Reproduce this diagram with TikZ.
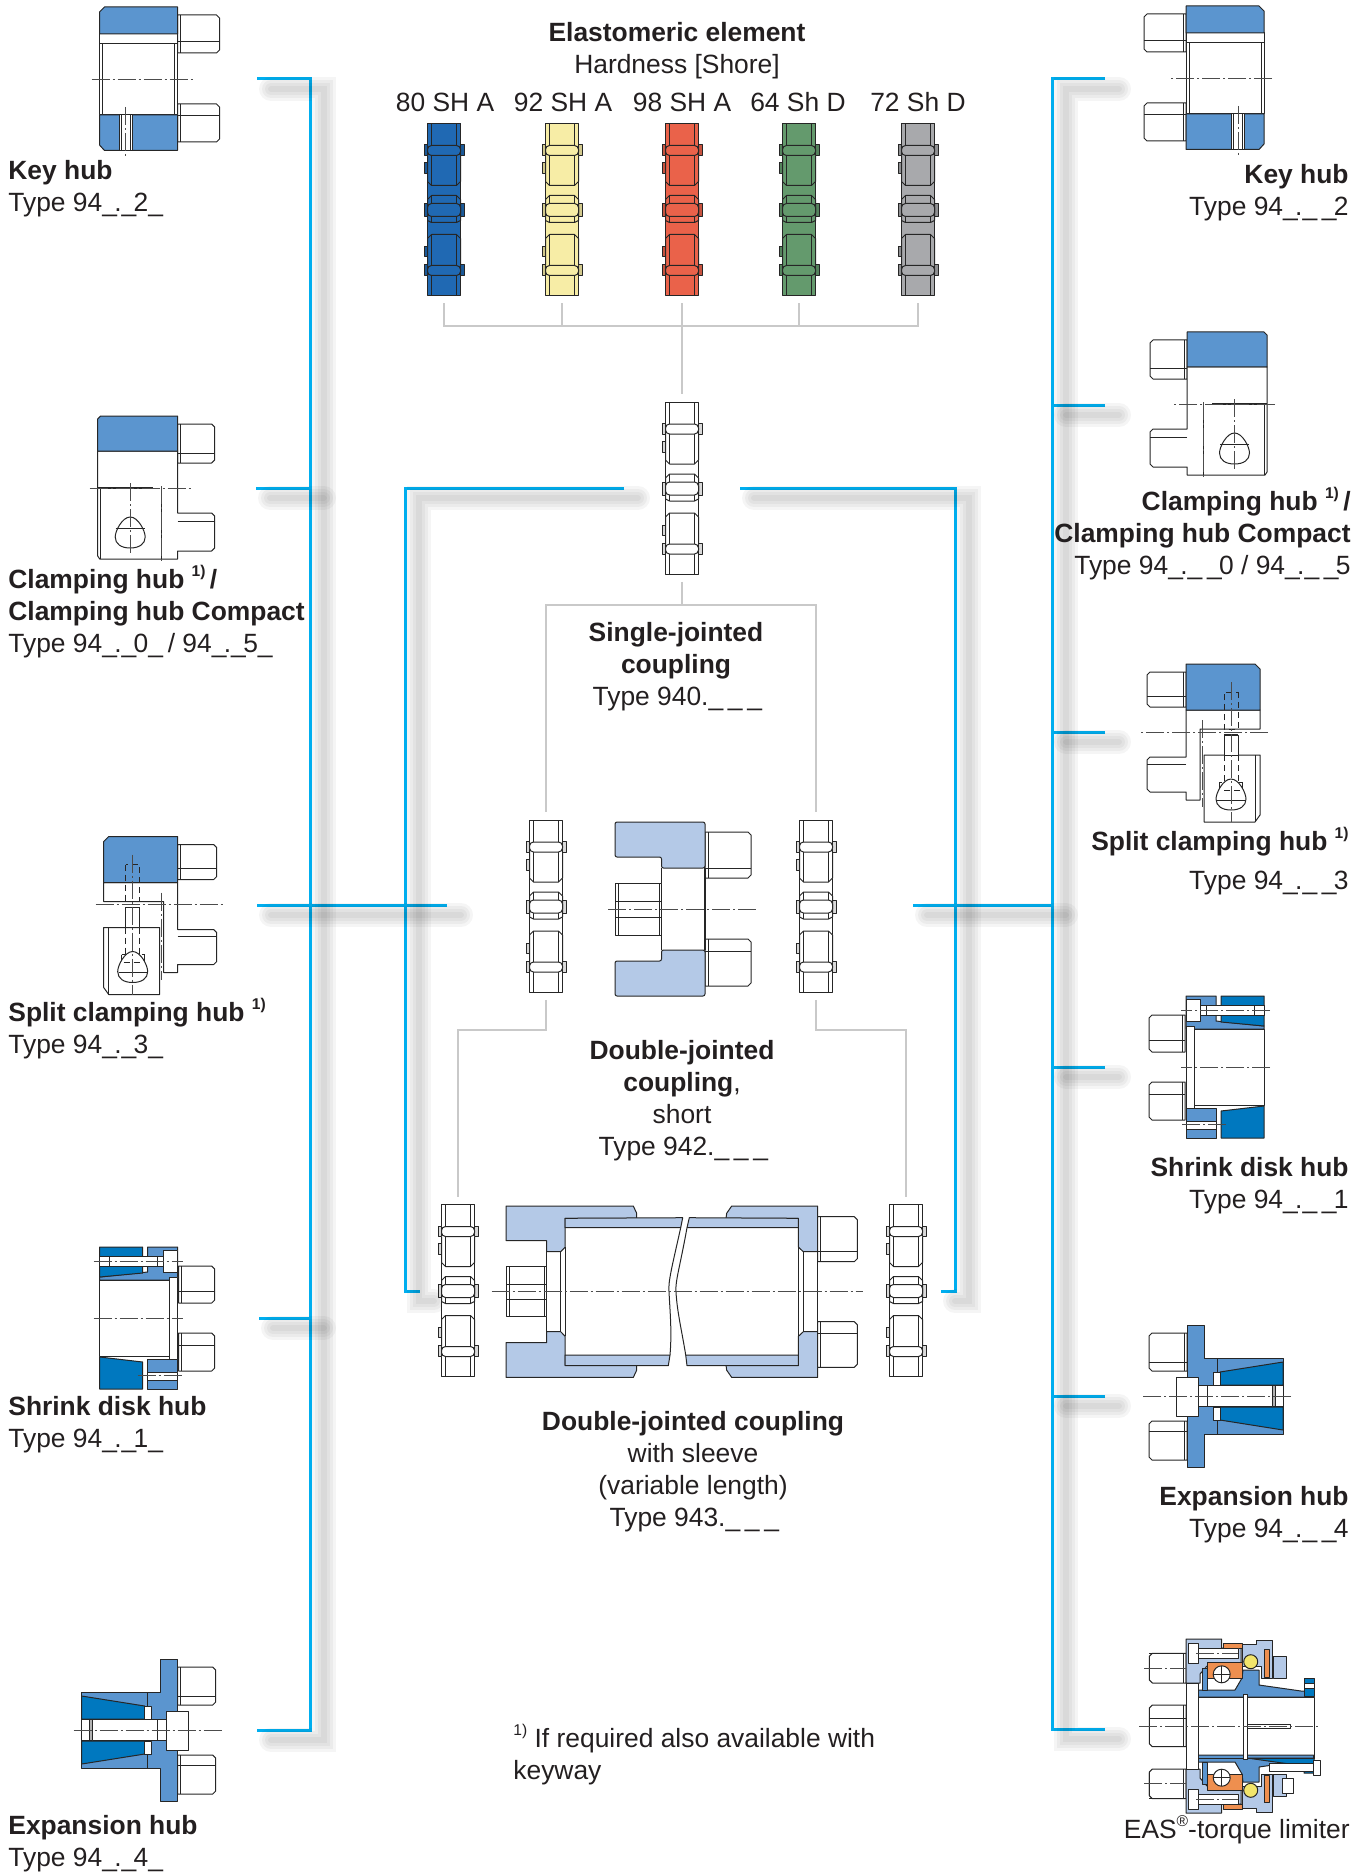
\documentclass[tikz,border=0pt]{standalone}
\usepackage{fontspec}
\usepackage{xcolor}
\setmainfont{Liberation Sans}
\definecolor{ink}{HTML}{231F20}
\definecolor{buscyan}{HTML}{00AEEF}
\definecolor{forkgrey}{HTML}{C9C9C9}
\definecolor{hubblue}{HTML}{5B95CF}
\definecolor{deepblue}{HTML}{0078BF}
\definecolor{paleblue}{HTML}{B4C9E7}
\definecolor{ringorange}{HTML}{EE8F4F}
\definecolor{ballyellow}{HTML}{F2E56B}
\definecolor{shA80}{HTML}{2069B3}
\definecolor{shA92}{HTML}{F7EDA6}
\definecolor{shA98}{HTML}{EA624A}
\definecolor{shD64}{HTML}{649A6D}
\definecolor{shD72}{HTML}{A8A9AC}
\newcommand{\hubbolt}[4]{%
	\draw[part,fill=white] (0,#2) -- (#1-3,#2) -- (#1,#2+3) -- (#1,#3-3) -- (#1-3,#3) -- (0,#3) -- cycle;
	\draw[part] (0,#4) -- (#1,#4) (3,#2) -- (3,#3);
}
\newcommand{\teardrop}[2]{%
	\draw[part,fill=white] (#1,#2) .. controls (#1+8,#2) and (#1+15,#2+14) .. (#1+15,#2+20) .. controls (#1+15,#2+27) and (#1+9,#2+31) .. (#1,#2+31) .. controls (#1-9,#2+31) and (#1-15,#2+27) .. (#1-15,#2+20) .. controls (#1-15,#2+14) and (#1-8,#2) .. (#1,#2) -- cycle;
}
\newcommand{\us}{\_\kern-0.1em}
\newcommand{\hubnote}[1]{\raisebox{0.42em}{\fontsize{7.8}{8}\selectfont #1}}

\begin{document}
\begin{tikzpicture}[
		x=0.5pt, y=-0.5pt,
		part/.style={draw=black!85, line width=0.5pt, line join=round},
		heavy/.style={draw=black!85, line width=0.8pt},
		axisline/.style={draw=black!70, line width=0.4pt, dash pattern=on 9pt off 1.5pt on 1pt off 1.5pt},
		busline/.style={draw=buscyan, line width=1.5pt},
		forkline/.style={draw=forkgrey, line width=1.2pt},
		busshadow/.style={draw=black, line cap=round, opacity=0.04},
		elembox/.style={minimum width=22pt, minimum height=93.5pt, inner sep=0pt},
		plain/.style={font=\fontsize{13.2}{16}\selectfont, text=ink, inner sep=0pt},
		leftlabel/.style={plain, align=left, anchor=base west},
		rightlabel/.style={plain, align=right, anchor=base east},
		midlabel/.style={plain, align=center, anchor=base},
		pics/element/.style={code={
			\filldraw[part,fill=#1] (-16.5,-86) rectangle (16.5,86);
			\foreach \ya/\yb in {-64.5/-54,-6/7,55/66} {
				\filldraw[part,fill=#1!85!black] (-20,\ya) rectangle (-16.5,\yb);
				\filldraw[part,fill=#1!85!black] (16.5,\ya) rectangle (20,\yb);
			}
			\foreach \ya/\yb in {-47/-36,37/47}
				\filldraw[part,fill=#1!85!black] (-20,\ya) rectangle (-16.5,\yb);
			\draw[part,fill=#1] (-16.5,-54) -- (-16.5,-28) -- (-12.5,-24) -- (12.5,-24) -- (16.5,-28) -- (16.5,-54);
			\draw[part,fill=#1] (-16.5,-10) -- (-12.5,-14) -- (12.5,-14) -- (16.5,-10) -- (16.5,11) -- (12.5,13) -- (-12.5,13) -- (-16.5,11) -- cycle;
			\draw[part,fill=#1] (-16.5,56) -- (-16.5,29) -- (-12.5,25) -- (12.5,25) -- (16.5,29) -- (16.5,56);
			\draw[part] (-12.5,-86) -- (-12.5,-24) (12.5,-86) -- (12.5,-24) (-12.5,-14) -- (-12.5,13) (12.5,-14) -- (12.5,13) (-12.5,25) -- (-12.5,86) (12.5,25) -- (12.5,86);
			\foreach \ya/\yb in {-64/-54,-6/7,56/66}
				\filldraw[part,fill=#1,rounded corners=2pt] (-16.5,\ya) rectangle (16.5,\yb);
		}},
		pics/keyhub/.style={code={
			\hubbolt{42}{-64}{-26}{-37}
			\hubbolt{42}{25}{63}{37}
			\filldraw[part,fill=white] (-78,-45) rectangle (0,36);
			\draw[part] (-75,-35) -- (-75,36) (-78,-35) -- (0,-35) (-3,-35) -- (-3,36);
			\filldraw[part,fill=hubblue] (-73,-72) -- (0,-72) -- (0,-45) -- (-78,-45) -- (-78,-67) -- cycle;
			\filldraw[part,fill=hubblue] (-78,36) -- (0,36) -- (0,71.5) -- (-73,71.5) -- (-78,66) -- cycle;
			\filldraw[part,fill=white] (-58,36) rectangle (-45,71.5);
			\draw[part] (-56,36) -- (-56,71.5) (-47,36) -- (-47,71.5);
			\draw[axisline] (-52,28) -- (-52,80) (-86,0) -- (15,0);
		}},
		pics/clamphub/.style={code={
			\hubbolt{37}{-64}{-25}{-35}
			\filldraw[part,fill=white] (-80,-37) -- (0,-37) -- (0,25) -- (34,25) -- (37,28) -- (37,60) -- (34,63) -- (0,63) -- (0,71) -- (-78,71) -- (-80,68) -- cycle;
			\draw[part] (0,33) -- (37,33) (-77,0) -- (-77,71) (-16,0) -- (-16,71);
			\filldraw[part,fill=hubblue] (-77,-72) -- (0,-72) -- (0,-37) -- (-80,-37) -- (-80,-69) -- cycle;
			\draw[heavy] (-80,0) -- (-25,0);
			\teardrop{-47.5}{29}
			\draw[part] (-62,40) -- (-33,40);
			\draw[axisline] (-47.5,-5) -- (-47.5,65) (-16.5,-2) -- (-16.5,76) (-88,0) -- (13,0);
		}},
		pics/splithub/.style={code={
			\hubbolt{39}{-60}{-25}{-36}
			\filldraw[part,fill=white] (-74,-22) -- (0,-22) -- (0,25) -- (36,25) -- (39,28) -- (39,57) -- (36,60) -- (0,60) -- (0,68) -- (-14,68) -- (-14,-3) -- (-74,-3) -- cycle;
			\draw[part] (0,32) -- (39,32);
			\filldraw[part,fill=hubblue] (-69,-68) -- (0,-68) -- (0,-22) -- (-74,-22) -- (-74,-63) -- cycle;
			\filldraw[part,fill=white] (-74,23) -- (-18,23) -- (-18,90) -- (-69,90) -- (-74,83) -- cycle;
			\draw[part] (-69,23) -- (-69,90);
			\filldraw[part,fill=white] (-52,3) rectangle (-38,23);
			\draw[heavy] (-52,3) -- (-38,3);
			\draw[part,densely dashed] (-52,-40) rectangle (-38,-3) (-52,23) -- (-52,50) (-38,23) -- (-38,50) (-56,50) -- (-56,58) (-33,50) -- (-33,58) (-56,50) -- (-33,50);
			\teardrop{-45}{47}
			\draw[part] (-59,68) -- (-31,68);
			\draw[part,densely dashed] (-54,58) -- (-36,58);
			\draw[axisline] (-45,-50) -- (-45,90) (-16,-12) -- (-16,75) (-82,0) -- (46,0);
		}},
		pics/shrinkhub/.style={code={
			\begin{scope}[shift={(1,0)}]
				\hubbolt{36}{-52}{-15}{-27}
				\hubbolt{36}{15}{53}{27}
			\end{scope}
			\filldraw[part,fill=hubblue] (-78,-41) -- (-30,-46) -- (-30,-71) -- (0,-71) -- (0,-41) -- (0,-38) -- (-78,-38) -- cycle;
			\filldraw[part,fill=deepblue] (-78,-71) -- (-35,-71) -- (-35,-45) -- (-78,-41) -- cycle;
			\filldraw[part,fill=white] (-78,-38) rectangle (-8,38);
			\filldraw[part,fill=white] (-8,-41) rectangle (0,41);
			\filldraw[part,fill=white] (-78,-62) rectangle (-14,-52);
			\draw[part] (-68,-62) -- (-68,-52) (-20,-62) -- (-20,-52);
			\filldraw[part,fill=white] (-14,-68) rectangle (0,-46);
			\filldraw[part,fill=hubblue] (-30,41) -- (0,41) -- (0,71) -- (-30,71) -- cycle;
			\filldraw[part,fill=deepblue] (-78,39) -- (-35,44) -- (-35,71) -- (-78,71) -- cycle;
			\filldraw[part,fill=white] (-30,54) rectangle (0,62);
			\draw[axisline] (-84,0) -- (5,0) (-84,-57) -- (5,-57) (-40,57) -- (5,57);
		}},
		pics/expandhub/.style={code={
			\hubbolt{38}{-63}{-25}{-34}
			\hubbolt{38}{25}{64}{35}
			\filldraw[part,fill=hubblue] (-17,-71) -- (0,-71) -- (0,71) -- (-17,71) -- (-17,38) -- (-96,38) -- (-96,-38) -- (-17,-38) -- cycle;
			\filldraw[part,fill=deepblue] (-96,-34) -- (-33,-24) -- (-33,-11) -- (-96,-11) -- cycle;
			\filldraw[part,fill=deepblue] (-96,34) -- (-33,24) -- (-33,11) -- (-96,11) -- cycle;
			\filldraw[part,fill=white] (-33,-24) rectangle (-26,-11);
			\filldraw[part,fill=white] (-33,24) rectangle (-26,11);
			\draw[part] (-30,-38) -- (-30,-24) (-30,24) -- (-30,38);
			\filldraw[part,fill=white] (-96,-10.5) rectangle (-11,10.5);
			\draw[part,fill=black!30] (-88,-10.5) rectangle (-85,10.5);
			\draw[part] (-20,-10.5) -- (-20,10.5);
			\filldraw[part,fill=white] (-11,-19) rectangle (11,20);
			\draw[axisline] (-104,0) -- (45,0);
		}},
		pics/easparts/.style={code={
			\begin{scope}[xscale=-1]
				\hubbolt{36.7}{-72.7}{-43}{-72.7}
			\end{scope}
			\filldraw[part,fill=paleblue] (0,-87) -- (35.7,-87) -- (35.7,-78) -- (55,-78) -- (55,-60) -- (21,-60) -- (14,-52) -- (14,-43) -- (0,-43) -- cycle;
			\filldraw[part,fill=white] (2.5,-83) rectangle (12.5,-63);
			\filldraw[part,fill=ringorange] (37,-83) rectangle (56,-78);
			\filldraw[part,fill=hubblue] (12,-29) -- (12,-36) -- (49,-36) -- (56,-48) -- (57,-56) -- (73,-56) -- (73,-41) -- (115,-35) -- (127.5,-35) -- (127.5,-29) -- cycle;
			\filldraw[part,fill=ringorange] (21,-64) rectangle (56,-48);
			\filldraw[part,fill=white] (12.5,-78) rectangle (52.5,-68);
			\filldraw[part,fill=hubblue] (16,-58) rectangle (21,-36);
			\filldraw[part,fill=paleblue] (56.5,-82) -- (70,-82) -- (70,-86) -- (86.5,-86) -- (86.5,-48) -- (75,-48) -- (75,-60) -- (56.5,-60) -- cycle;
			\filldraw[part,fill=paleblue] (87,-70) rectangle (100,-48);
			\filldraw[part,fill=ringorange] (78,-76.7) rectangle (83,-49);
			\filldraw[part,fill=white] (35.7,-51.7) circle (8.5);
			\draw[part] (27,-51.7) -- (44,-51.7) (35.7,-60) -- (35.7,-43);
			\filldraw[part,fill=ballyellow] (64.7,-64.3) circle (7);
			\draw[axisline] (-42,-57.7) -- (0,-57.7) (10,-73) -- (52,-73);
		}},
		pics/sleevehalf/.style={code={
			\filldraw[part,fill=paleblue] (506,-85.7) -- (633.3,-85.7) -- (636.7,-78.4) -- (636.7,-73.4) -- (565,-73.4) -- (565,-44.4) -- (560.7,-40) -- (546.7,-40) -- (546.7,-51) -- (506,-51) -- cycle;
			\filldraw[part,fill=paleblue] (817.7,-85.7) -- (731.7,-85.7) -- (726.7,-78.5) -- (726,-73.4) -- (798.3,-73.4) -- (798.3,-44.7) -- (803.3,-40) -- (817.7,-40) -- cycle;
			\draw[part] (546.7,-40) -- (546.7,0) (560.7,-40) -- (560.7,0) (565,-44.4) -- (565,0) (798.3,-44.7) -- (798.3,0) (803.3,-40) -- (803.3,0) (817.7,-40) -- (817.7,0);
		}}
	]
	\useasboundingbox (0,0) rectangle (1368,1872);

	% bus lines
	\foreach \n/\x/\y in {
		lkey/257/79, ltop/310/79, lbot/310/1730, lexp/257/1730,
		lclamp/256/488, lclampb/310/488, lsplit/257/905, lsplite/447/905, lshrink/259/1318, lshrinkb/310/1318,
		ila/624/488, ilb/405/488, ilc/405/1291, ild/420/1291,
		ira/740/488, irb/955/488, irc/955/1291, ird/941/1291,
		rkey/1105/79, rtop/1052/79, rbot/1052/1729, reas/1105/1729,
		rclamp/1105/405, rclampb/1052/405, rsplit/1105/732, rsplitb/1052/732,
		rshrink/1105/1067, rshrinkb/1052/1067, rexp/1105/1396, rexpb/1052/1396,
		rmid/913/905, rmidb/1052/905}
		\coordinate (\n) at (\x,\y);
	\draw[busline] (lkey) -- (ltop) -- (lbot) -- (lexp);
	\draw[busline] (lclamp) -- (lclampb);
	\draw[busline] (lsplit) -- (lsplite);
	\draw[busline] (lshrink) -- (lshrinkb);
	\draw[busline] (ila) -- (ilb) -- (ilc) -- (ild);
	\draw[busline] (ira) -- (irb) -- (irc) -- (ird);
	\draw[busline] (rkey) -- (rtop) -- (rbot) -- (reas);
	\draw[busline] (rclamp) -- (rclampb);
	\draw[busline] (rsplit) -- (rsplitb);
	\draw[busline] (rshrink) -- (rshrinkb);
	\draw[busline] (rexp) -- (rexpb);
	\draw[busline] (rmid) -- (rmidb);
	\begin{scope}[transform canvas={xshift=7pt,yshift=-5pt}]
		\foreach \w in {3,6,9,12} {
			\draw[busshadow,line width=\w pt] (lkey) -- (ltop) -- (lbot) -- (lexp);
			\draw[busshadow,line width=\w pt] (lclamp) -- (lclampb);
			\draw[busshadow,line width=\w pt] (lsplit) -- (lsplite);
			\draw[busshadow,line width=\w pt] (lshrink) -- (lshrinkb);
			\draw[busshadow,line width=\w pt] (ila) -- (ilb) -- (ilc) -- (ild);
			\draw[busshadow,line width=\w pt] (ira) -- (irb) -- (irc) -- (ird);
			\draw[busshadow,line width=\w pt] (rkey) -- (rtop) -- (rbot) -- (reas);
			\draw[busshadow,line width=\w pt] (rclamp) -- (rclampb);
			\draw[busshadow,line width=\w pt] (rsplit) -- (rsplitb);
			\draw[busshadow,line width=\w pt] (rshrink) -- (rshrinkb);
			\draw[busshadow,line width=\w pt] (rexp) -- (rexpb);
			\draw[busshadow,line width=\w pt] (rmid) -- (rmidb);
		}
	\end{scope}

	% elastomeric elements
	\foreach \n/\x/\y/\c in {
		el80/444/209.5/shA80, el92/562/209.5/shA92, el98/682/209.5/shA98, el64/799/209.5/shD64, el72/918/209.5/shD72,
		single/682/488/white, shortL/546/906/white, shortR/816/906/white, sleeveL/458/1290.5/white, sleeveR/906/1290.5/white}
	{
		\node[elembox] (\n) at (\x,\y) {};
		\pic at (\x,\y) {element=\c};
	}

	% grey forks
	\coordinate (elbus) at (682,326);
	\draw[forkline] (el80.south) |- (el72.south |- elbus) -- (el72.south);
	\draw[forkline] (el92.south) -- (el92.south |- elbus);
	\draw[forkline] (el98.south) -- (single.north);
	\draw[forkline] (el64.south) -- (el64.south |- elbus);
	\draw[forkline] (single.south) -- ++(0,23) coordinate (forktop) -| (shortL.north);
	\draw[forkline] (forktop) -| (shortR.north);
	\draw[forkline] (shortL.south) -- ++(0,30) -| (sleeveL.north);
	\draw[forkline] (shortR.south) -- ++(0,30) -| (sleeveR.north);

	% hubs left
	\pic at (177.5,79) {keyhub};
	\pic at (177.7,488) {clamphub};
	\pic at (177.7,904.5) {splithub};
	\pic at (177.7,1318) {shrinkhub};
	\pic at (177.7,1730) {expandhub};
	% hubs right
	\pic[xscale=-1] at (1186,78) {keyhub};
	\pic[xscale=-1] at (1187,404) {clamphub};
	\pic[xscale=-1] at (1186,732) {splithub};
	\pic[xscale=-1] at (1186,1067) {shrinkhub};
	\pic[xscale=-1] at (1187,1396) {expandhub};

	% EAS torque limiter
	\begin{scope}[shift={(1186,1726)}]
		\begin{scope}[xscale=-1]
			\hubbolt{36.7}{-21}{20.7}{-8}
			\hubbolt{36.7}{44}{72.3}{72.3}
		\end{scope}
		\pic at (0,0) {easparts};
		\pic[yscale=-1] at (0,0) {easparts};
		\filldraw[part,fill=deepblue] (118,-48) rectangle (128,-30);
		\filldraw[part,fill=white] (118,-43) rectangle (128,-38);
		\filldraw[part,fill=deepblue] (61,32) -- (128,32) -- (128,47) -- (118,47) -- (118,40) -- cycle;
		\filldraw[part,fill=white] (83,37) rectangle (127,45);
		\filldraw[part,fill=white] (127,34) rectangle (134,49);
		\filldraw[part,fill=white] (96,52) rectangle (107,67);
		\draw[part,fill=white] (0,-43) rectangle (12,43);
		\draw[part] (12.3,-29) -- (128,-29) -- (128,32) -- (12.3,32) -- cycle;
		\filldraw[part,fill=white] (57,-32) rectangle (61,33);
		\filldraw[part,fill=white] (61,-2) rectangle (104,2);
		\draw[axisline] (-47,0) -- (135,0) (-42,57) -- (0,57);
	\end{scope}

	% short coupling
	\begin{scope}[shift={(705,909)}]
		\hubbolt{46}{-77}{-31}{-41}
		\hubbolt{46}{30}{77}{42}
		\filldraw[part,fill=paleblue,rounded corners=1pt] (-90,-87) -- (0,-87) -- (0,-41) -- (-43.5,-41) -- (-43.5,-52) -- (-90,-52) -- cycle;
		\filldraw[part,fill=paleblue,rounded corners=1pt] (-90,87) -- (0,87) -- (0,41) -- (-43.5,41) -- (-43.5,52) -- (-90,52) -- cycle;
		\draw[heavy] (-43.5,-41) -- (-43.5,41) (0,-41) -- (0,41);
		\filldraw[part,fill=white] (-90,-26) rectangle (-43.5,26);
		\draw[part] (-90,-8) -- (-43.5,-8) (-90,8) -- (-43.5,8) (-87,-26) -- (-87,26) (-46,-26) -- (-46,26);
		\draw[axisline] (-97,0) -- (53,0);
	\end{scope}

	% coupling with sleeve
	\pic at (0,1291.7) {sleevehalf};
	\pic[yscale=-1] at (0,1291.7) {sleevehalf};
	\begin{scope}[shift={(0,1291.7)}]
		\filldraw[part,fill=paleblue] (565,-73.4) -- (682.7,-74) -- (680.7,-64) -- (565,-64) -- cycle;
		\filldraw[part,fill=paleblue] (689.3,-74) -- (798.3,-73.4) -- (798.3,-64) -- (687,-64) -- cycle;
		\filldraw[part,fill=paleblue] (565,63.3) -- (670,63.3) -- (668.3,74) -- (565,74) -- cycle;
		\filldraw[part,fill=paleblue] (685.7,63.3) -- (798.3,63.3) -- (798.3,74) -- (687,74) -- cycle;
		\draw[part] (680.7,-64) .. controls (672,-25) and (668,-10) .. (669,0) .. controls (670,20) and (672,40) .. (670,63.3);
		\draw[part] (687,-64) .. controls (680,-25) and (675,-10) .. (676,0) .. controls (677,20) and (682,40) .. (685.7,63.3);
		\begin{scope}[shift={(817.7,0)}]
			\hubbolt{39.6}{-75}{-30}{-40.7}
			\hubbolt{39.6}{30}{75.6}{41.6}
		\end{scope}
		\begin{scope}[shift={(506,0)}]
			\draw[part,fill=white] (0,-25) rectangle (40.7,25);
			\draw[part] (0,-7.7) -- (40.7,-7.7) (0,7.6) -- (40.7,7.6) (3,-25) -- (3,25) (38,-25) -- (38,25);
		\end{scope}
		\draw[axisline] (491.7,0) -- (863.3,0);
	\end{scope}

	% labels left
	\node[leftlabel] (lbkeyL) at (8,212) {\textbf{Key hub}\\Type 94\us.\us2\us};
	\node[leftlabel] (lbclampL) at (8,652) {\textbf{Clamping hub \hubnote{1)}\,/}\\\textbf{Clamping hub Compact}\\Type 94\us.\us0\us\ / 94\us.\us5\us};
	\node[leftlabel] (lbsplitL) at (8,1053) {\textbf{Split clamping hub \hubnote{1)}}\\Type 94\us.\us3\us};
	\node[leftlabel] (lbshrinkL) at (8,1447) {\textbf{Shrink disk hub}\\Type 94\us.\us1\us};
	\node[leftlabel] (lbexpL) at (8,1866) {\textbf{Expansion hub}\\Type 94\us.\us4\us};
	% labels right
	\node[rightlabel] (lbkeyR) at (1349,216) {\textbf{Key hub}\\Type 94\us.\us\ \us2};
	\node[rightlabel] (lbclampR) at (1351,574) {\textbf{Clamping hub \hubnote{1)}\,/}\\\textbf{Clamping hub Compact}\\Type 94\us.\us\ \us0 / 94\us.\us\ \us5};
	\node[rightlabel] (lbsplitR) at (1349,889) {\textbf{Split clamping hub \hubnote{1)}}\\[3.5pt]Type 94\us.\us\ \us3};
	\node[rightlabel] (lbshrinkR) at (1349,1208) {\textbf{Shrink disk hub}\\Type 94\us.\us\ \us1};
	\node[rightlabel] (lbexpR) at (1349,1537) {\textbf{Expansion hub}\\Type 94\us.\us\ \us4};
	\node[rightlabel] (lbeas) at (1350,1838) {EAS\hubnote{®}-torque limiter};
	% labels middle
	\node[midlabel] (lbelastomer) at (677,74) {\textbf{Elastomeric element}\\Hardness [Shore]};
	\foreach \n/\x/\t in {sh80/445/80 SH A, sh92/563/92 SH A, sh98/682/98 SH A, sh64/798/64 Sh D, sh72/918/72 Sh D}
		\node[midlabel] (\n) at (\x,112) {\t};
	\node[midlabel] (lbsingle) at (676,705) {\textbf{Single-jointed}\\\textbf{coupling}\\Type 940.\us\ \us\ \us};
	\node[midlabel] (lbshort) at (682,1155) {\textbf{Double-jointed}\\\textbf{coupling},\\short\\Type 942.\us\ \us\ \us};
	\node[midlabel] (lbsleeve) at (693,1526) {\textbf{Double-jointed coupling}\\with sleeve\\(variable length)\\Type 943.\us\ \us\ \us};
	\node[leftlabel] (lbnote) at (513,1779) {\hubnote{1)} If required also available with\\keyway};
\end{tikzpicture}
\end{document}
